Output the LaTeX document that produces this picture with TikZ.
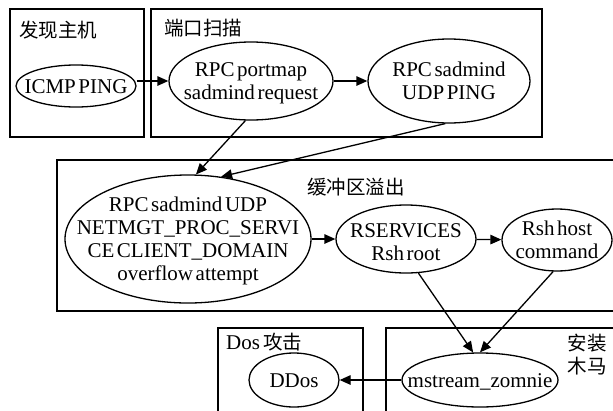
\documentclass[tikz,border=0pt]{standalone}
\usepackage{fontspec}
\setmainfont{Liberation Serif}[WordSpace=0.5]
\newfontfamily\cjk{Noto Sans CJK SC}
\usetikzlibrary{shapes.geometric,arrows.meta}
\newcommand{\ztext}[1]{\makebox[0pt]{\raisebox{-0.37em}[0pt][0pt]{\begin{tabular}{@{}c@{}}#1\end{tabular}}}}
\tikzset{
  el/.style={draw, ellipse, line width=1.3pt, inner sep=0pt, font=\fontsize{21}{23}\selectfont},
  box/.style={draw, line width=1.3pt},
  arr/.style={line width=1.3pt, -{Triangle[length=11pt,width=9.5pt]}},
  lab/.style={inner sep=0pt, font=\cjk\fontsize{19.5}{23}\selectfont},
}
\begin{document}
\begin{tikzpicture}[x=1pt,y=-1pt]
\useasboundingbox (0,0) rectangle (613,410);
% group boxes
\draw[box] (10,9) rectangle (144,137);
\draw[box] (151,9) rectangle (542,137);
\draw[box] (57,160) rectangle (616,311);
\draw[box] (218,328) rectangle (363,414);
\draw[box] (386,328) rectangle (616,414);
% group labels
\node[lab, anchor=west] (l1) at (19,30) {发现主机};
\node[lab, anchor=west] (l2) at (164,28) {端口扫描};
\node[lab] (l3) at (356,187) {缓冲区溢出};
\node[lab, anchor=west] (l4) at (226,342) {{\rmfamily\fontsize{21}{23}\selectfont Dos}\,攻击};
\node[lab, align=center] (l5) at (587,355) {安装\\木马};
% ellipses
\node[el, minimum width=120pt, minimum height=42pt] (icmp) at (76,86) {\ztext{ICMP PING}};
\node[el, minimum width=164pt, minimum height=78pt] (portmap) at (251,81) {\ztext{RPC portmap\\sadmind request}};
\node[el, minimum width=162pt, minimum height=84pt] (sadmind) at (449,81) {\ztext{RPC sadmind\\UDP PING}};
\node[el, minimum width=246pt, minimum height=128pt] (overflow) at (188,239) {\ztext{RPC sadmind UDP\\NETMGT\_PROC\_SERVI\\CE CLIENT\_DOMAIN\\overflow attempt}};
\node[el, minimum width=140pt, minimum height=68pt] (rservices) at (406,239) {\raisebox{-5pt}{\ztext{RSERVICES\\Rsh root}}};
\node[el, minimum width=110pt, minimum height=62pt] (rshhost) at (557,240) {\ztext{Rsh host\\command}};
\node[el, minimum width=90pt, minimum height=54pt] (ddos) at (294,380) {\ztext{DDos}};
\node[el, minimum width=156pt, minimum height=54pt] (mstream) at (480,380) {\ztext{mstream\_zomnie}};
% connectors
\draw[arr] (icmp.east |- portmap.west) -- (portmap.west);
\draw[arr] (portmap) -- (sadmind);
\draw[arr] (portmap.-98) -- (overflow.83);
\draw[arr] (sadmind.-95) -- (overflow.62);
\draw[arr] (overflow) -- (rservices);
\draw[arr] (rservices) -- (rshhost);
\draw[arr] (rservices.-70) -- (mstream.104);
\draw[arr] (rshhost.-97) -- (mstream.90);
\draw[arr] (mstream) -- (ddos);
\end{tikzpicture}
\end{document}
